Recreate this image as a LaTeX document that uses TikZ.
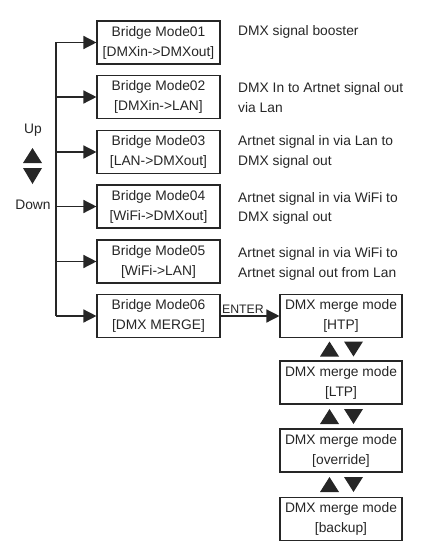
\documentclass[tikz,border=0pt]{standalone}
\usepackage{fontspec}
\setmainfont{Liberation Sans}
\usetikzlibrary{arrows.meta}

\begin{document}
\begin{tikzpicture}[x=1pt, y=-1pt, color=black!85]

        \tikzstyle{modebox} = [draw, line width=1.1pt, minimum width=123pt, minimum height=43pt, align=center, inner sep=0, font=\fontsize{13.8}{20}\selectfont];
        \tikzstyle{mergebox} = [modebox, minimum width=122pt];
        \tikzstyle{desc} = [anchor=west, align=left, inner sep=0, font=\fontsize{13.8}{19.5}\selectfont];
        \tikzstyle{arrow} = [line width=1.4pt, -{Triangle[length=13pt, width=13pt]}];

        \useasboundingbox (0,0) rectangle (432,551);

        % Left - Bridge modes
        \node[modebox] (B1) at (158.5,42.5) {Bridge Mode01\\{[DMXin->DMXout]}};
        \node[modebox] (B2) at (158.5,97) {Bridge Mode02\\{[DMXin->LAN]}};
        \node[modebox] (B3) at (158.5,152) {Bridge Mode03\\{[LAN->DMXout]}};
        \node[modebox] (B4) at (158.5,206.5) {Bridge Mode04\\{[WiFi->DMXout]}};
        \node[modebox] (B5) at (158.5,261.5) {Bridge Mode05\\{[WiFi->LAN]}};
        \node[modebox] (B6) at (158.5,316) {Bridge Mode06\\{[DMX MERGE]}};

        \node[desc] (D1) at (238,32) {DMX signal booster};
        \node[desc] (D2) at (238,97.5) {DMX In to Artnet signal out\\via Lan};
        \node[desc] (D3) at (238,152) {Artnet signal in via Lan to\\DMX signal out};
        \node[desc] (D4) at (238,208.5) {Artnet signal in via WiFi to\\DMX signal out};
        \node[desc] (D5) at (238,264) {Artnet signal in via WiFi to\\Artnet signal out from Lan};

        \coordinate (trunk) at (56,0);
        \draw [arrow] (trunk |- B6) |- (B1);
        \foreach \i in {2,...,6}
            \draw [arrow] (trunk |- B\i) -- (B\i);

        \node[font=\fontsize{13.8}{16}\selectfont] (up) at (33,130) {Up};
        \node[font=\fontsize{13.8}{16}\selectfont] (down) at (33,205) {Down};
        \fill (23,163) -- (32.5,148) -- (42,163) -- cycle;
        \fill (23,168) -- (42,168) -- (32.5,184) -- cycle;
        % Left - Bridge modes

        % Right - Merge modes
        \node[mergebox] (M1) at (341,316) {DMX merge mode\\{[HTP]}};
        \node[mergebox] (M2) at (341,382.5) {DMX merge mode\\{[LTP]}};
        \node[mergebox] (M3) at (341,450.5) {DMX merge mode\\{[override]}};
        \node[mergebox] (M4) at (341,519) {DMX merge mode\\{[backup]}};

        \draw [arrow] (B6) -- node[pos=0.38, above, inner sep=1.5pt, font=\fontsize{12.3}{14}\selectfont] (enter) {ENTER} (M1);

        \foreach \y in {349, 416.5, 484.5} {
            \fill (320,\y+7.5) -- (329.5,\y-7.5) -- (339,\y+7.5) -- cycle;
            \fill (344,\y-7.5) -- (363,\y-7.5) -- (353.5,\y+7.5) -- cycle;
        }
        % Right - Merge modes

\end{tikzpicture}
\end{document}
